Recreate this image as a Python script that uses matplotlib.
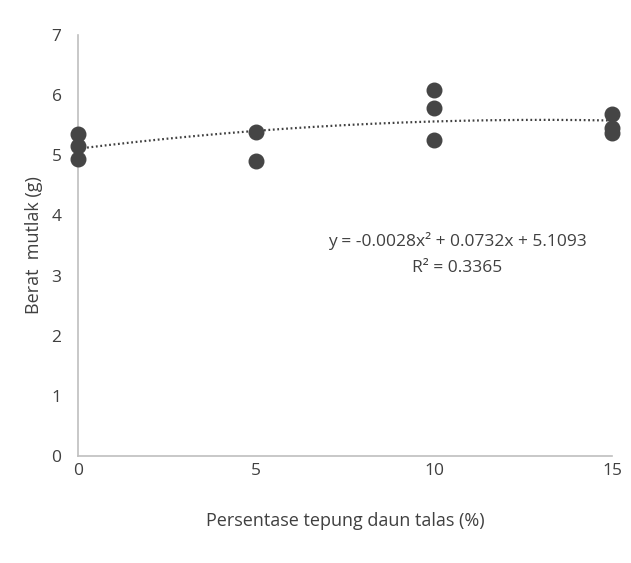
import numpy as np
import matplotlib.pyplot as plt

plt.rcParams['font.family'] = ['Open Sans', 'DejaVu Sans']

# data
persen = [0, 0, 0, 5, 5, 10, 10, 10, 15, 15, 15]
berat = [5.35, 5.15, 4.93, 5.38, 4.91, 6.08, 5.79, 5.26, 5.69, 5.45, 5.37]

# trendline coefficients as printed on the chart
trend_coef = [-0.0028, 0.0732, 5.1093]
trend_label = "y = -0.0028x² + 0.0732x + 5.1093"
r2_label = "R² = 0.3365"

txt = '#404040'
axis_col = '#bfbfbf'

fig = plt.figure(figsize=(6.31, 5.63), dpi=100)
ax = fig.add_axes([0.124, 0.19, 0.846, 0.748])

xs = np.linspace(0, 15, 200)
ax.plot(xs, np.polyval(trend_coef, xs), color='#404040', lw=1.6,
        linestyle=(0, (0.8, 1.2)), zorder=2)
ax.scatter(persen, berat, s=110, color='#454545', zorder=3, clip_on=False)

ax.set_xlim(0, 15)
ax.set_ylim(0, 7)
ax.set_xticks([0, 5, 10, 15])
ax.set_yticks(range(8))

for s in ['top', 'right']:
    ax.spines[s].set_visible(False)
for s in ['left', 'bottom']:
    ax.spines[s].set_color(axis_col)
    ax.spines[s].set_linewidth(1.2)

ax.tick_params(length=0, labelsize=12.5, colors=txt)
ax.tick_params(axis='x', pad=5)
ax.tick_params(axis='y', pad=12)

ax.set_xlabel('Persentase tepung daun talas (%)', fontsize=13, color=txt, labelpad=24)
ax.set_ylabel('Berat  mutlak (g)', fontsize=13, color=txt, labelpad=6)

ax.text(10.65, 3.58, trend_label, ha='center', va='center', fontsize=12.5, color=txt)
ax.text(10.65, 3.13, r2_label, ha='center', va='center', fontsize=12.5, color=txt)

fig.savefig('out.png', dpi=100)
